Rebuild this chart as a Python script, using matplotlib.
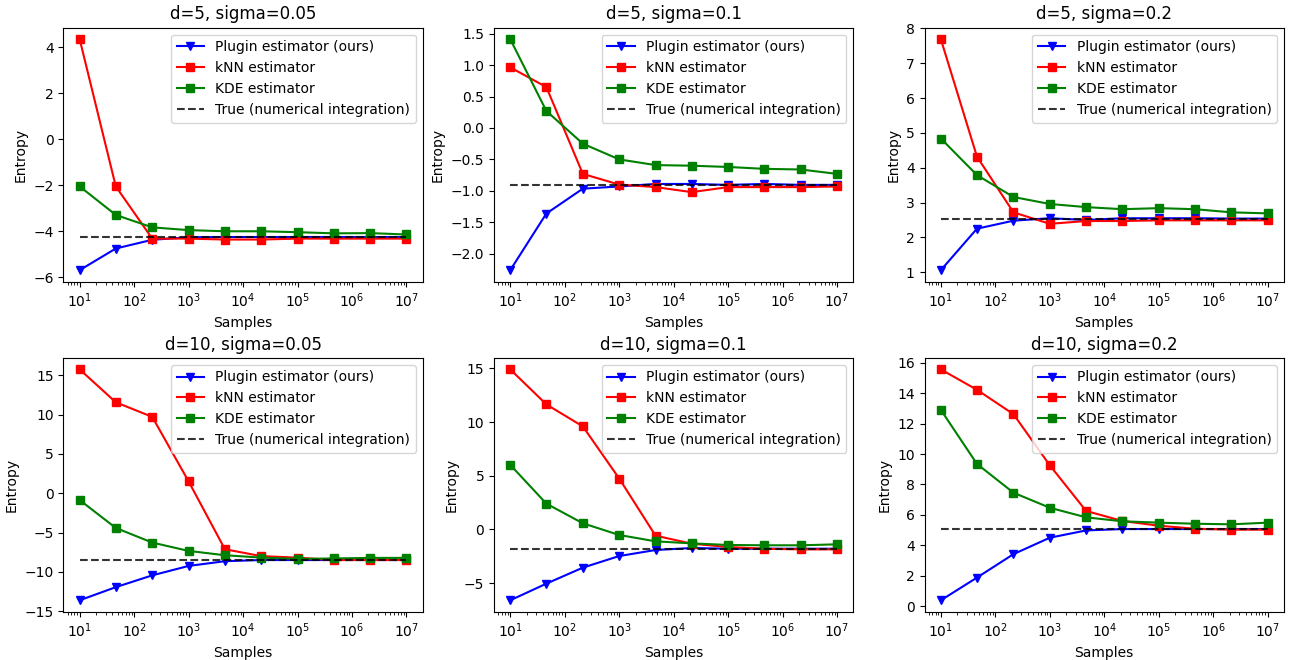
import numpy as np
from matplotlib import pyplot as plt

samples = [10, 46, 215, 1000, 4642, 21544, 100000, 464159, 2154435, 10000000]

titles = ["d=5, sigma=0.05", "d=5, sigma=0.1", "d=5, sigma=0.2",
          "d=10, sigma=0.05", "d=10, sigma=0.1", "d=10, sigma=0.2"]

plugin = [
    [-5.69, -4.75, -4.37, -4.26, -4.25, -4.25, -4.25, -4.25, -4.25, -4.25],
    [-2.26, -1.36, -0.965, -0.93, -0.89, -0.89, -0.905, -0.89, -0.905, -0.905],
    [1.06, 2.25, 2.48, 2.55, 2.50, 2.55, 2.55, 2.55, 2.54, 2.54],
    [-13.62, -11.95, -10.45, -9.25, -8.65, -8.5, -8.5, -8.5, -8.5, -8.5],
    [-6.6, -5.05, -3.56, -2.48, -1.92, -1.73, -1.8, -1.8, -1.8, -1.8],
    [0.39, 1.88, 3.42, 4.5, 4.98, 5.07, 5.07, 5.07, 5.07, 5.07],
]
knn = [
    [4.35, -2.05, -4.32, -4.32, -4.36, -4.36, -4.32, -4.32, -4.32, -4.32],
    [0.963, 0.65, -0.73, -0.90, -0.94, -1.02, -0.94, -0.94, -0.94, -0.93],
    [7.69, 4.32, 2.72, 2.39, 2.47, 2.47, 2.49, 2.49, 2.49, 2.49],
    [15.75, 11.57, 9.71, 1.5, -7.13, -8.0, -8.2, -8.5, -8.5, -8.5],
    [14.9, 11.64, 9.59, 4.74, -0.58, -1.33, -1.64, -1.8, -1.86, -1.86],
    [15.56, 14.22, 12.62, 9.26, 6.26, 5.6, 5.29, 5.09, 5.03, 5.03],
]
kde = [
    [-2.05, -3.29, -3.83, -3.95, -4.0, -4.0, -4.04, -4.09, -4.08, -4.14],
    [1.41, 0.27, -0.25, -0.50, -0.59, -0.60, -0.62, -0.65, -0.66, -0.73],
    [4.84, 3.79, 3.16, 2.96, 2.87, 2.81, 2.84, 2.81, 2.72, 2.69],
    [-0.87, -4.42, -6.28, -7.34, -7.89, -8.19, -8.36, -8.3, -8.23, -8.23],
    [6.01, 2.40, 0.57, -0.52, -1.11, -1.3, -1.45, -1.48, -1.48, -1.39],
    [12.9, 9.35, 7.46, 6.47, 5.84, 5.58, 5.49, 5.42, 5.38, 5.49],
]
true_vals = [-4.26, -0.90, 2.54, -8.45, -1.83, 5.07]

fig, axes = plt.subplots(2, 3, figsize=(12.93, 6.6), dpi=100)
fig.subplots_adjust(left=0.049, right=0.993, top=0.958, bottom=0.073,
                    wspace=0.198, hspace=0.30)

for i, ax in enumerate(axes.flat):
    ax.plot(samples, plugin[i], color="b", marker="v", label="Plugin estimator (ours)")
    ax.plot(samples, knn[i], color="r", marker="s", label="kNN estimator")
    ax.plot(samples, kde[i], color="g", marker="s", label="KDE estimator")
    ax.plot(samples, [true_vals[i]] * len(samples), "k--", alpha=0.8,
            label="True (numerical integration)")
    ax.set_xscale("log")
    ax.set_title(titles[i], fontsize=12)
    ax.set_xlabel("Samples")
    ax.set_ylabel("Entropy")
    ax.legend(loc="upper right")

fig.savefig("out.png")
